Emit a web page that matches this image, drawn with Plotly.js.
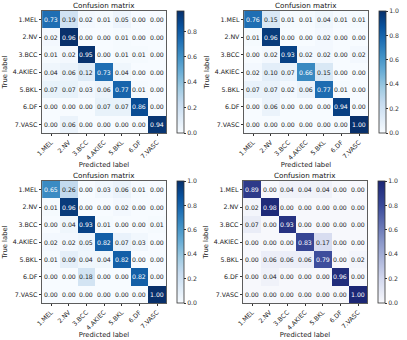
<!DOCTYPE html>
<html>
<head>
<meta charset="utf-8">
<script src="https://cdn.plot.ly/plotly-3.0.1.min.js"></script>
<style>
  html, body { margin: 0; padding: 0; background: #fff; }
  #chart { width: 407px; height: 340px; }
</style>
</head>
<body>
<div id="chart"></div>
<script>
var classes = ['1.MEL', '2.NV', '3.BCC', '4.AKIEC', '5.BKL', '6.DF', '7.VASC'];

// rows = true label, cols = predicted label
var cmTopLeft = [
  [0.73, 0.19, 0.02, 0.01, 0.05, 0.00, 0.00],
  [0.02, 0.96, 0.00, 0.00, 0.01, 0.00, 0.00],
  [0.01, 0.02, 0.95, 0.00, 0.01, 0.01, 0.00],
  [0.04, 0.06, 0.12, 0.73, 0.04, 0.00, 0.00],
  [0.07, 0.07, 0.03, 0.06, 0.77, 0.01, 0.00],
  [0.00, 0.00, 0.00, 0.07, 0.07, 0.86, 0.00],
  [0.00, 0.06, 0.00, 0.00, 0.00, 0.00, 0.94]
];
var cmTopRight = [
  [0.76, 0.15, 0.01, 0.01, 0.04, 0.01, 0.01],
  [0.01, 0.96, 0.00, 0.00, 0.02, 0.00, 0.00],
  [0.00, 0.02, 0.93, 0.02, 0.02, 0.00, 0.02],
  [0.02, 0.10, 0.07, 0.66, 0.15, 0.00, 0.00],
  [0.07, 0.07, 0.02, 0.06, 0.77, 0.01, 0.00],
  [0.00, 0.06, 0.00, 0.00, 0.00, 0.94, 0.00],
  [0.00, 0.00, 0.00, 0.00, 0.00, 0.00, 1.00]
];
var cmBottomLeft = [
  [0.65, 0.26, 0.00, 0.03, 0.06, 0.01, 0.00],
  [0.01, 0.96, 0.00, 0.00, 0.02, 0.00, 0.00],
  [0.00, 0.04, 0.93, 0.01, 0.00, 0.00, 0.01],
  [0.02, 0.02, 0.05, 0.82, 0.07, 0.03, 0.00],
  [0.01, 0.09, 0.04, 0.04, 0.82, 0.00, 0.00],
  [0.00, 0.00, 0.18, 0.00, 0.00, 0.82, 0.00],
  [0.00, 0.00, 0.00, 0.00, 0.00, 0.00, 1.00]
];
var cmBottomRight = [
  [0.89, 0.00, 0.04, 0.04, 0.04, 0.00, 0.00],
  [0.02, 0.98, 0.00, 0.00, 0.00, 0.00, 0.00],
  [0.07, 0.00, 0.93, 0.00, 0.00, 0.00, 0.00],
  [0.00, 0.00, 0.00, 0.83, 0.17, 0.00, 0.00],
  [0.00, 0.06, 0.06, 0.06, 0.79, 0.00, 0.02],
  [0.00, 0.04, 0.00, 0.00, 0.00, 0.96, 0.00],
  [0.00, 0.00, 0.00, 0.00, 0.00, 0.00, 1.00]
];
var zMaxes = [0.96, 1.0, 1.0, 1.0];

// matplotlib "Blues"
var blues = [
  [0, '#f7fbff'], [0.125, '#deebf7'], [0.25, '#c6dbef'], [0.375, '#9ecae1'],
  [0.5, '#6baed6'], [0.625, '#4292c6'], [0.75, '#2171b5'], [0.875, '#08519c'], [1, '#08306b']
];
var navy = [
  [0, '#f7f8fc'], [0.2, '#d3d8ee'], [0.5, '#8a97c9'], [0.8, '#3a4a9a'], [1, '#1c2775']
];

var W = 407, H = 340;
function px(x) { return x / W; }
function py(y) { return 1 - y / H; }

var panels = [
  {z: cmTopLeft,     cs: blues, x: [42, 166],  y: [11, 133],  cb: 177},
  {z: cmTopRight,    cs: blues, x: [244, 368], y: [11, 133],  cb: 379},
  {z: cmBottomLeft,  cs: blues, x: [42, 166],  y: [181, 303], cb: 177},
  {z: cmBottomRight, cs: navy,  x: [243, 367], y: [181, 303], cb: 378}
];

var font = 'DejaVu Sans, sans-serif';
var data = [];
var layout = {
  width: W, height: H,
  margin: {l: 0, r: 0, t: 0, b: 0},
  paper_bgcolor: '#fff', plot_bgcolor: '#fff',
  font: {family: font, size: 6, color: '#222'},
  showlegend: false,
  annotations: []
};

panels.forEach(function (p, k) {
  var n = k + 1;
  var suf = n === 1 ? '' : String(n);
  var zmax = zMaxes[k];
  data.push({
    type: 'heatmap',
    z: p.z, x: classes, y: classes,
    xaxis: 'x' + suf, yaxis: 'y' + suf,
    zmin: 0, zmax: zmax,
    colorscale: p.cs,
    hoverinfo: 'skip',
    colorbar: {
      x: px(p.cb), xanchor: 'left', xpad: 0,
      y: (py(p.y[0]) + py(p.y[1])) / 2, yanchor: 'middle', ypad: 0,
      len: (p.y[1] - p.y[0]) / H, lenmode: 'fraction',
      thickness: 7, thicknessmode: 'pixels',
      outlinewidth: 0.8, outlinecolor: '#333',
      tickvals: [0, 0.2, 0.4, 0.6, 0.8, 1.0],
      tickformat: '.1f',
      ticks: 'outside', ticklen: 2, tickcolor: '#333',
      tickfont: {size: 6.2, color: '#333', family: font}
    }
  });
  layout['xaxis' + suf] = {
    domain: [px(p.x[0]), px(p.x[1])],
    anchor: 'y' + suf,
    tickangle: -45,
    ticks: 'outside', ticklen: 2.5, tickcolor: '#333',
    showgrid: false, zeroline: false,
    showline: true, mirror: true, linecolor: '#333', linewidth: 0.8,
    tickfont: {size: 6.3, color: '#222', family: font},
    title: {text: 'Predicted label', font: {size: 6.8, color: '#222', family: font}, standoff: 1}
  };
  layout['yaxis' + suf] = {
    domain: [py(p.y[1]), py(p.y[0])],
    anchor: 'x' + suf,
    autorange: 'reversed',
    ticks: 'outside', ticklen: 2.5, tickcolor: '#333',
    showgrid: false, zeroline: false,
    showline: true, mirror: true, linecolor: '#333', linewidth: 0.8,
    tickfont: {size: 6.3, color: '#222', family: font},
    title: {text: 'True label', font: {size: 6.8, color: '#222', family: font}, standoff: 4}
  };
  layout.annotations.push({
    text: 'Confusion matrix', xref: 'paper', yref: 'paper',
    x: (px(p.x[0]) + px(p.x[1])) / 2, y: py(p.y[0]),
    xanchor: 'center', yanchor: 'bottom', showarrow: false, borderpad: 0,
    font: {size: 7.2, color: '#111', family: font}
  });
  p.z.forEach(function (row, i) {
    row.forEach(function (v, j) {
      layout.annotations.push({
        text: v.toFixed(2), x: classes[j], y: classes[i],
        xref: 'x' + suf, yref: 'y' + suf, showarrow: false,
        font: {size: 6.2, family: font, color: v > zmax / 2 ? '#fff' : '#222'}
      });
    });
  });
});

Plotly.newPlot('chart', data, layout, {displayModeBar: false, staticPlot: true});
</script>
</body>
</html>
